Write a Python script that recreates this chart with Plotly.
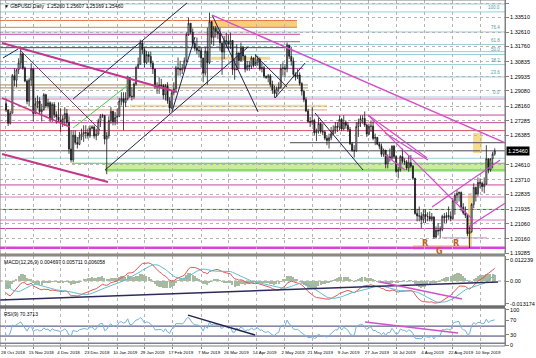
import numpy as np
import pandas as pd
import plotly.graph_objects as go

# ---------------- data ----------------
HEADER = "▼ GBPUSD,Daily  1.25260 1.25607 1.25169 1.25460"
MACD_TITLE = "MACD(12,26,9) 0.004697 0.005711 0.006058"
RSI_TITLE = "RSI(9) 70.3713"
LAST_PRICE = 1.25460

FIRST_OPEN = 1.2830
# closes before the visible window (used only to warm up the indicators)
WARMUP_CLOSE = [1.3105, 1.3175, 1.3165, 1.3070, 1.3035, 1.3027, 1.2967, 1.2965, 1.3013, 1.3118,
                1.3046, 1.3130, 1.3137, 1.3237, 1.3150, 1.3161, 1.3172, 1.3113, 1.3039, 1.3055,
                1.2973, 1.2968, 1.2897, 1.2801, 1.2825]

CLOSE = [
    1.2793, 1.2713, 1.2773, 1.3000, 1.2972,
    1.3035, 1.3077, 1.3132, 1.3046, 1.2968,
    1.2845, 1.2973, 1.3042, 1.2771, 1.2830,
    1.2847, 1.2782, 1.2795, 1.2885, 1.2816,
    1.2836, 1.2737, 1.2826, 1.2765, 1.2751,
    1.2731, 1.2720, 1.2740, 1.2771, 1.2718,
    1.2557, 1.2491, 1.2640, 1.2596, 1.2585,
    1.2630, 1.2648, 1.2657, 1.2654, 1.2637,
    1.2682, 1.2690, 1.2636, 1.2647, 1.2723,
    1.2755, 1.2760, 1.2617, 1.2637, 1.2728,
    1.2785, 1.2722, 1.2748, 1.2754, 1.2847,
    1.2862, 1.2838, 1.2862, 1.2989, 1.2876,
    1.2873, 1.2950, 1.3050, 1.3068, 1.3198,
    1.3157, 1.3078, 1.3127, 1.3116, 1.3075,
    1.3040, 1.2935, 1.2933, 1.2943, 1.2941,
    1.2883, 1.2940, 1.2848, 1.2804, 1.2896,
    1.2921, 1.3047, 1.3042, 1.3035, 1.3046,
    1.3090, 1.3248, 1.3317, 1.3262, 1.3194,
    1.3166, 1.3153, 1.3150, 1.3107, 1.3015,
    1.3148, 1.3078, 1.3327, 1.3231, 1.3287,
    1.3266, 1.3255, 1.3198, 1.3143, 1.3211,
    1.3208, 1.3190, 1.3212, 1.3037, 1.3035,
    1.3137, 1.3091, 1.3168, 1.3118, 1.3039,
    1.3061, 1.3056, 1.3107, 1.3062, 1.3080,
    1.3100, 1.3041, 1.3048, 1.2996, 1.2990,
    1.2999, 1.2947, 1.2914, 1.2892, 1.2921,
    1.2930, 1.3042, 1.3046, 1.3040, 1.3184,
    1.3117, 1.3089, 1.3008, 1.2994, 1.3004,
    1.2953, 1.2906, 1.2855, 1.2787, 1.2723,
    1.2719, 1.2729, 1.2655, 1.2666, 1.2711,
    1.2663, 1.2660, 1.2622, 1.2608, 1.2625,
    1.2649, 1.2671, 1.2694, 1.2688, 1.2736,
    1.2678, 1.2718, 1.2700, 1.2675, 1.2589,
    1.2549, 1.2546, 1.2693, 1.2716, 1.2741,
    1.2741, 1.2702, 1.2647, 1.2694, 1.2695,
    1.2621, 1.2627, 1.2586, 1.2573, 1.2525,
    1.2551, 1.2467, 1.2510, 1.2505, 1.2574,
    1.2511, 1.2422, 1.2433, 1.2512, 1.2483,
    1.2479, 1.2443, 1.2474, 1.2453, 1.2381,
    1.2168, 1.2153, 1.2152, 1.2131, 1.2163,
    1.2149, 1.2149, 1.2134, 1.2147, 1.2025,
    1.2067, 1.2062, 1.2071, 1.2150, 1.2143,
    1.2155, 1.2150, 1.2137, 1.2245, 1.2278,
    1.2288, 1.2295, 1.2205, 1.2170, 1.2157,
    1.2045, 1.2058, 1.2222, 1.2325, 1.2285,
    1.2355, 1.2350, 1.2330, 1.2345, 1.2498,
    1.2430, 1.2498, 1.2526, 1.2546,
]
HIGH = [
    1.2862, 1.2795, 1.2787, 1.3010, 1.3045,
    1.3040, 1.3105, 1.3175, 1.3135, 1.3055,
    1.2978, 1.2985, 1.3075, 1.3010, 1.2866,
    1.2880, 1.2870, 1.2830, 1.2895, 1.2890,
    1.2860, 1.2845, 1.2839, 1.2840, 1.2785,
    1.2839, 1.2802, 1.2760, 1.2810, 1.2799,
    1.2755, 1.2670, 1.2669, 1.2670, 1.2630,
    1.2660, 1.2680, 1.2700, 1.2700, 1.2680,
    1.2700, 1.2700, 1.2700, 1.2680, 1.2740,
    1.2768, 1.2770, 1.2760, 1.2660, 1.2755,
    1.2810, 1.2787, 1.2780, 1.2800, 1.2866,
    1.2900, 1.2900, 1.2900, 1.3000, 1.2990,
    1.2930, 1.2960, 1.3060, 1.3110, 1.3217,
    1.3215, 1.3170, 1.3150, 1.3145, 1.3145,
    1.3090, 1.3040, 1.2960, 1.2990, 1.2980,
    1.2950, 1.2950, 1.2960, 1.2870, 1.2910,
    1.2960, 1.3060, 1.3110, 1.3090, 1.3070,
    1.3110, 1.3260, 1.3350, 1.3315, 1.3285,
    1.3210, 1.3230, 1.3180, 1.3170, 1.3105,
    1.3170, 1.3290, 1.3381, 1.3320, 1.3300,
    1.3300, 1.3290, 1.3290, 1.3200, 1.3240,
    1.3260, 1.3250, 1.3260, 1.3210, 1.3100,
    1.3190, 1.3140, 1.3200, 1.3180, 1.3125,
    1.3090, 1.3090, 1.3120, 1.3110, 1.3130,
    1.3120, 1.3110, 1.3080, 1.3060, 1.3000,
    1.3010, 1.3010, 1.2970, 1.2940, 1.2935,
    1.2960, 1.3070, 1.3080, 1.3070, 1.3200,
    1.3180, 1.3175, 1.3110, 1.3020, 1.3040,
    1.3020, 1.2960, 1.2915, 1.2870, 1.2800,
    1.2750, 1.2810, 1.2740, 1.2680, 1.2745,
    1.2720, 1.2710, 1.2670, 1.2640, 1.2650,
    1.2690, 1.2700, 1.2720, 1.2720, 1.2760,
    1.2745, 1.2760, 1.2730, 1.2720, 1.2690,
    1.2600, 1.2580, 1.2720, 1.2740, 1.2760,
    1.2760, 1.2784, 1.2710, 1.2710, 1.2730,
    1.2725, 1.2650, 1.2630, 1.2600, 1.2590,
    1.2560, 1.2550, 1.2525, 1.2560, 1.2580,
    1.2580, 1.2520, 1.2450, 1.2520, 1.2560,
    1.2500, 1.2490, 1.2520, 1.2520, 1.2460,
    1.2380, 1.2195, 1.2210, 1.2175, 1.2190,
    1.2190, 1.2175, 1.2180, 1.2170, 1.2150,
    1.2090, 1.2110, 1.2090, 1.2160, 1.2170,
    1.2175, 1.2210, 1.2180, 1.2260, 1.2290,
    1.2310, 1.2300, 1.2300, 1.2230, 1.2210,
    1.2160, 1.2090, 1.2230, 1.2350, 1.2330,
    1.2385, 1.2380, 1.2360, 1.2385, 1.2580,
    1.2500, 1.2500, 1.2540, 1.2561,
]
LOW = [
    1.2780, 1.2696, 1.2705, 1.2775, 1.2935,
    1.2930, 1.3010, 1.3045, 1.3035, 1.2960,
    1.2827, 1.2815, 1.2936, 1.2724, 1.2770,
    1.2802, 1.2770, 1.2723, 1.2789, 1.2803,
    1.2800, 1.2720, 1.2720, 1.2745, 1.2710,
    1.2720, 1.2660, 1.2690, 1.2696, 1.2700,
    1.2528, 1.2476, 1.2477, 1.2583, 1.2560,
    1.2580, 1.2610, 1.2600, 1.2620, 1.2620,
    1.2625, 1.2675, 1.2620, 1.2610, 1.2640,
    1.2690, 1.2745, 1.2585, 1.2405, 1.2620,
    1.2710, 1.2700, 1.2700, 1.2705, 1.2750,
    1.2820, 1.2670, 1.2810, 1.2850, 1.2865,
    1.2850, 1.2860, 1.2940, 1.3040, 1.3070,
    1.3130, 1.3050, 1.3070, 1.3080, 1.3050,
    1.3010, 1.2920, 1.2890, 1.2890, 1.2920,
    1.2857, 1.2850, 1.2830, 1.2773, 1.2800,
    1.2880, 1.2910, 1.3000, 1.3000, 1.3010,
    1.3030, 1.3080, 1.3240, 1.3250, 1.3180,
    1.3150, 1.3130, 1.3110, 1.3050, 1.2960,
    1.3000, 1.2945, 1.3070, 1.3190, 1.3180,
    1.3230, 1.3220, 1.3150, 1.3005, 1.3100,
    1.3170, 1.3160, 1.3160, 1.3005, 1.2975,
    1.3040, 1.3040, 1.3085, 1.3090, 1.3020,
    1.3030, 1.3030, 1.3040, 1.3050, 1.3060,
    1.3060, 1.3030, 1.3020, 1.2985, 1.2980,
    1.2960, 1.2930, 1.2890, 1.2866, 1.2870,
    1.2900, 1.2920, 1.3000, 1.2990, 1.3020,
    1.3100, 1.3060, 1.2990, 1.2970, 1.2980,
    1.2940, 1.2880, 1.2840, 1.2780, 1.2715,
    1.2690, 1.2700, 1.2640, 1.2605, 1.2650,
    1.2650, 1.2640, 1.2610, 1.2580, 1.2560,
    1.2610, 1.2640, 1.2650, 1.2660, 1.2670,
    1.2665, 1.2670, 1.2680, 1.2660, 1.2580,
    1.2540, 1.2505, 1.2540, 1.2630, 1.2690,
    1.2710, 1.2690, 1.2630, 1.2640, 1.2660,
    1.2610, 1.2580, 1.2580, 1.2555, 1.2510,
    1.2510, 1.2440, 1.2440, 1.2480, 1.2490,
    1.2500, 1.2410, 1.2380, 1.2420, 1.2470,
    1.2460, 1.2430, 1.2420, 1.2440, 1.2370,
    1.2160, 1.2120, 1.2120, 1.2080, 1.2110,
    1.2110, 1.2120, 1.2120, 1.2120, 1.2015,
    1.2015, 1.2035, 1.2020, 1.2060, 1.2110,
    1.2110, 1.2130, 1.2120, 1.2130, 1.2160,
    1.2230, 1.2240, 1.2180, 1.2160, 1.2140,
    1.2030, 1.1958, 1.2050, 1.2200, 1.2240,
    1.2270, 1.2320, 1.2300, 1.2290, 1.2340,
    1.2410, 1.2420, 1.2440, 1.2517,
]

DATE_LABELS = ["28 Oct 2018", "15 Nov 2018", "4 Dec 2018", "23 Dec 2018", "10 Jan 2019",
               "29 Jan 2019", "17 Feb 2019", "7 Mar 2019", "26 Mar 2019", "14 Apr 2019",
               "2 May 2019", "21 May 2019", "9 Jun 2019", "27 Jun 2019", "16 Jul 2019",
               "4 Aug 2019", "22 Aug 2019", "10 Sep 2019"]
PRICE_TICKS = [1.34385, 1.33510, 1.32610, 1.31760, 1.30835, 1.29935, 1.29080, 1.28160,
               1.27285, 1.26385, 1.24610, 1.23710, 1.22835, 1.21935, 1.21060, 1.20160, 1.19285]
MACD_TICKS = [0.012239, 0.0, -0.013174]
MACD_TICKTEXT = ["0.012239", "0.00", "-0.013174"]
RSI_TICKS = [100, 70, 30, 0]
FIB_LEVELS = [1.3385, 1.3264, 1.3188, 1.3128, 1.3067, 1.2992, 1.2871]
FIB_NAMES = ["100.0", "76.4", "61.8", "50.0", "38.2", "23.6", "0.0"]

# ---------------- bars / indicators ----------------
dates = pd.bdate_range("2018-10-29", "2019-09-19")
n = len(CLOSE)
idx = np.arange(n)
OPEN = [FIRST_OPEN] + CLOSE[:-1]

tick_pos = []
for s in DATE_LABELS:
    d = pd.to_datetime(s, format="%d %b %Y")
    k = int(dates.searchsorted(d))
    tick_pos.append(k if (k < n and dates[k] == d) else k - 0.5)

allc = pd.Series(WARMUP_CLOSE + CLOSE)
w = len(WARMUP_CLOSE)
ema12 = allc.ewm(span=12, adjust=False).mean()
ema26 = allc.ewm(span=26, adjust=False).mean()
macd = ema12 - ema26
signal = macd.rolling(9).mean()
hist = macd - signal
delta = allc.diff()
au = delta.clip(lower=0).ewm(alpha=1 / 9, adjust=False).mean()
ad = (-delta.clip(upper=0)).ewm(alpha=1 / 9, adjust=False).mean()
rsi = 100 - 100 / (1 + au / ad)
macd, signal, hist, rsi = [s.iloc[w:].to_numpy() for s in (macd, signal, hist, rsi)]

# ---------------- figure ----------------
XMIN, XMAX = -2.885, 237.9
P_RANGE = [1.19228, 1.3457]
D_PRICE = [0.2659, 1.0]
D_MACD = [0.1156, 0.2601]
D_RSI = [0.0, 0.1098]
FONT = "Liberation Sans"
GRID = "#b4b4b4"

fig = go.Figure()
fig.add_trace(go.Candlestick(
    x=idx, open=OPEN, high=HIGH, low=LOW, close=CLOSE, xaxis="x", yaxis="y",
    increasing=dict(line=dict(color="#1a1a1a", width=0.8), fillcolor="#ffffff"),
    decreasing=dict(line=dict(color="#1a1a1a", width=0.8), fillcolor="#1a1a1a"),
    whiskerwidth=0, showlegend=False, hoverinfo="skip"))
fig.add_trace(go.Bar(x=idx, y=hist, xaxis="x2", yaxis="y2", marker_color="#a7b99f",
                     marker_line_width=0, width=0.6, showlegend=False, hoverinfo="skip"))
fig.add_trace(go.Scatter(x=idx, y=macd, xaxis="x2", yaxis="y2", mode="lines",
                         line=dict(color="#e05555", width=1), showlegend=False, hoverinfo="skip"))
fig.add_trace(go.Scatter(x=idx, y=signal, xaxis="x2", yaxis="y2", mode="lines",
                         line=dict(color="#62bccb", width=1), showlegend=False, hoverinfo="skip"))
fig.add_trace(go.Scatter(x=idx, y=rsi, xaxis="x3", yaxis="y3", mode="lines",
                         line=dict(color="#6fb3d9", width=1), showlegend=False, hoverinfo="skip"))

shapes = []


def hl(p, color, width=1, x0=XMIN, x1=XMAX, yref="y"):
    shapes.append(dict(type="line", xref="x", yref=yref, x0=x0, x1=x1, y0=p, y1=p,
                       line=dict(color=color, width=width), layer="below"))


def seg(i0, p0, i1, p1, color, width=1, yref="y"):
    shapes.append(dict(type="line", xref="x", yref=yref, x0=i0, x1=i1, y0=p0, y1=p1,
                       line=dict(color=color, width=width), layer="above"))


def box(i0, i1, p0, p1, color):
    shapes.append(dict(type="rect", xref="x", yref="y", x0=i0, x1=i1, y0=p0, y1=p1,
                       fillcolor=color, line=dict(width=0), layer="below"))


# shaded zones
box(97.76, 138.72, 1.3292, 1.3333, "#f6cf7c")
box(47.2, XMAX, 1.2418, 1.2471, "#c8ee98")
box(222.68, 227.01, 1.2533, 1.2654, "#f6dc90")
box(220.26, 222.17, 1.1962, 1.2291, "#f6dc90")
box(194.02, 220.26, 1.1947, 1.1977, "#f6dc90")

# Fibonacci levels
for p in [1.3433, 1.3145, 1.2501] + FIB_LEVELS:
    hl(p, "#9ccdd5")
# support / resistance levels
for p, x1 in [(1.3333, 138.72), (1.3292, 138.72)]:
    hl(p, "#e8774d", 1, XMIN, x1)
for p, x1 in [(1.3250, 140.14), (1.3205, 140.14), (1.3044, 141.65)]:
    hl(p, "#c2479a", 1, XMIN, x1)
for p in [1.2762, 1.2716, 1.2340, 1.2077]:
    hl(p, "#c2479a", 1)
for p in [1.2859, 1.2267, 1.2128]:
    hl(p, "#d77cc0", 1)
hl(1.2020, "#d77cc0", 1, 207.84, 229.34)
hl(1.2501, "#d77cc0", 1, 181.61, 198.76)
hl(1.3169, "#3b3b70", 1, XMIN, 135.39)
hl(1.2944, "#a58a55", 1, XMIN, 143.97)
hl(1.2926, "#a58a55", 1, XMIN, 143.97)
hl(1.3105, "#f3d98f", 3, 97.76, 125.91)
hl(1.2817, "#f3dc95", 2.5, 59.1, 153.05)
hl(1.2793, "#e39a83", 1, XMIN, 153.05)
hl(1.2668, "#d4505e", 1)
hl(1.2595, "#4a4a5a", 1, 135.39, XMAX)
hl(LAST_PRICE, "#4a4a5a", 1)
hl(1.2192, "#2f7d35", 1)
hl(1.2471, "#55c455", 1, 31.46, XMAX)
hl(1.2430, "#55c455", 1, 47.2, XMAX)
hl(1.1961, "#dd3fdd", 2.5)

# trend lines / channels
NAVY = "#23234d"
for a in [(-1.44, 1.3107, 5.73, 1.3161), (31.96, 1.2859, 86.25, 1.3439), (47.2, 1.2430, 115.41, 1.3173),
          (79.09, 1.2781, 90.08, 1.3234), (98.26, 1.3366, 120.16, 1.2781), (118.74, 1.3125, 133.98, 1.2932),
          (128.23, 1.2865, 142.56, 1.3076), (147.30, 1.2775, 170.21, 1.2430)]:
    seg(*a, NAVY, 1)
seg(6.64, 1.3155, 44.78, 1.2672, "#7a3a70", 1)
seg(31.96, 1.2684, 58.2, 1.2944, "#45d045", 1)
seg(-1.94, 1.3197, 81.51, 1.2901, "#c3388a", 2)
seg(-1.94, 1.2527, 48.61, 1.2358, "#c3388a", 2)
seg(-1.94, 1.2865, 30.45, 1.2690, "#c3388a", 1.5)
seg(98.26, 1.3366, 240.34, 1.2581, "#d152c9", 1.5)
for a in [(172.63, 1.2762, 222.68, 1.2128), (172.63, 1.2762, 200.78, 1.2503),
          (203.10, 1.2207, 235.59, 1.2491), (220.26, 1.2086, 240.34, 1.2249),
          (180.70, 1.2654, 201.18, 1.2491), (180.70, 1.2521, 190.29, 1.2430)]:
    seg(*a, "#cc4fc4", 1.2)

# MACD panel
hl(0, "#a0a0a0", 1, yref="y2")
shapes[-1]["line"]["dash"] = "dot"
seg(XMIN, -0.0110, 234.58, -0.0006, "#2c2c5c", 1.5, yref="y2")
seg(178.28, -0.0006, 217.43, -0.0105, "#d152c9", 1.5, yref="y2")
# RSI panel
for lv in [54, 26, 6]:
    hl(lv, "#3b3b70", 1, yref="y3")
seg(86.76, 85, 118.74, 29, "#23234d", 1.5, yref="y3")
seg(171.21, 65.6, 215.51, 34.6, "#d152c9", 1.5, yref="y3")

# panel frames / separators
for d in (D_PRICE, D_MACD, D_RSI):
    shapes.append(dict(type="rect", xref="paper", yref="paper", x0=0, x1=1, y0=d[0], y1=d[1],
                       line=dict(color="#808080", width=1), fillcolor="rgba(0,0,0,0)", layer="above"))
shapes.append(dict(type="line", xref="paper", yref="paper", x0=0, x1=1, y0=0.2630, y1=0.2630,
                   line=dict(color="#8a8a8a", width=2)))
shapes.append(dict(type="line", xref="paper", yref="paper", x0=0, x1=1, y0=0.1127, y1=0.1127,
                   line=dict(color="#6e6e6e", width=3)))

annotations = [
    dict(xref="paper", yref="paper", x=0.004, y=0.998, xanchor="left", yanchor="top", showarrow=False,
         text=HEADER, font=dict(family=FONT, size=5, color="#000000")),
    dict(xref="paper", yref="paper", x=0.004, y=D_MACD[1] - 0.004, xanchor="left", yanchor="top",
         showarrow=False, text=MACD_TITLE, font=dict(family=FONT, size=5, color="#000000")),
    dict(xref="paper", yref="paper", x=0.004, y=D_RSI[1] - 0.004, xanchor="left", yanchor="top",
         showarrow=False, text=RSI_TITLE, font=dict(family=FONT, size=5, color="#000000")),
    dict(xref="paper", yref="y", x=1.0, y=LAST_PRICE, xanchor="left", yanchor="middle", xshift=1,
         showarrow=False, text="1.25460", bgcolor="#000000", borderpad=1,
         font=dict(family=FONT, size=5.5, color="#ffffff")),
]
for p, name in zip(FIB_LEVELS, FIB_NAMES):
    annotations.append(dict(xref="x", yref="y", x=236.6, y=p, xanchor="right", yanchor="bottom",
                            showarrow=False, text=name, font=dict(family=FONT, size=4.5, color="#4f9aa5")))
for t, x, p in [("R", 199.77, 1.1989), ("G", 206.83, 1.1937), ("R", 214.6, 1.1989)]:
    annotations.append(dict(xref="x", yref="y", x=x, y=p, showarrow=False, text="<b>%s</b>" % t,
                            font=dict(family="DejaVu Sans", size=8, color="#b8621f")))

xcommon = dict(range=[XMIN, XMAX], tickvals=tick_pos, showgrid=True, gridcolor=GRID, griddash="dot",
               gridwidth=1, zeroline=False, showline=False)
ycommon = dict(side="right", showgrid=False, zeroline=False, ticks="outside", ticklen=3,
               tickcolor="#808080", showline=True, linecolor="#808080", linewidth=1,
               tickfont=dict(family=FONT, size=5.5, color="#000000"))

fig.update_layout(
    width=536, height=358, margin=dict(l=0, r=31, t=0, b=12),
    paper_bgcolor="#ffffff", plot_bgcolor="#ffffff", showlegend=False, bargap=0,
    shapes=shapes, annotations=annotations,
    xaxis=dict(**xcommon, anchor="y", showticklabels=False, rangeslider=dict(visible=False)),
    xaxis2=dict(**xcommon, anchor="y2", matches="x", showticklabels=False),
    xaxis3=dict(**xcommon, anchor="y3", matches="x", showticklabels=True, ticktext=DATE_LABELS,
                ticks="outside", ticklen=2, tickcolor="#808080", ticklabelshift=8, tickangle=0,
                tickfont=dict(family=FONT, size=4.4, color="#000000")),
    yaxis=dict(**ycommon, domain=D_PRICE, range=P_RANGE, anchor="x", tickvals=PRICE_TICKS,
               ticktext=["%.5f" % v for v in PRICE_TICKS]),
    yaxis2=dict(**ycommon, domain=D_MACD, range=[-0.0145, 0.0145], anchor="x2", tickvals=MACD_TICKS,
                ticktext=MACD_TICKTEXT),
    yaxis3=dict(**ycommon, domain=D_RSI, range=[-2, 105], anchor="x3", tickvals=RSI_TICKS,
                ticktext=[str(v) for v in RSI_TICKS]),
)
# horizontal dotted grid for price panel
fig.update_yaxes(showgrid=True, gridcolor=GRID, griddash="dot", selector=dict(anchor="x"))

fig.write_html("out.html")
